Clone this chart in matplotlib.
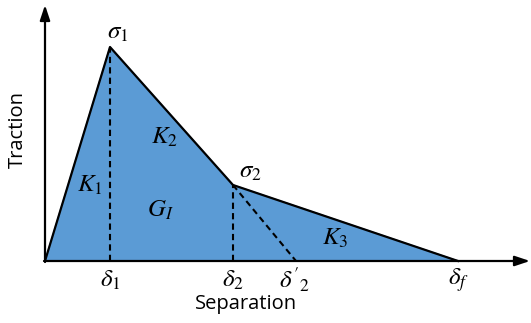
import matplotlib
matplotlib.use("Agg")
import matplotlib.pyplot as plt

plt.rcParams['mathtext.fontset'] = 'stix'

# Key points of the trilinear traction-separation law (arbitrary units)
separation = [0, 65, 188, 413]      # 0, delta1, delta2, delta_f
traction = [0, 214, 76, 0]          # 0, sigma1, sigma2, 0
delta2_prime = 251
sep_labels = [r'$\delta_1$', r'$\delta_2$', r"$\delta'{}_2$", r'$\delta_f$']
sep_label_pos = [65, 188, 249, 413]

fill_color = '#5B9BD5'

fig = plt.figure(figsize=(5.31, 3.23), dpi=100)
ax = fig.add_axes([0, 0, 1, 1])
ax.set_xlim(-45, 486)
ax.set_ylim(-62, 261)
ax.axis('off')

ax.fill(separation, traction, color=fill_color, zorder=1)
ax.plot(separation, traction, color='black', lw=1.6, zorder=3)

# dashed helper lines
ax.plot([separation[1], separation[1]], [0, traction[1]], ls=(0, (3, 2)), color='black', lw=1.5, zorder=2)
ax.plot([separation[2], separation[2]], [0, traction[2]], ls=(0, (3, 2)), color='black', lw=1.5, zorder=2)
ax.plot([separation[2], delta2_prime], [traction[2], 0], ls=(0, (3, 2)), color='black', lw=1.5, zorder=2)

# axes arrows
arrow = dict(arrowstyle='-|>,head_length=0.9,head_width=0.3', color='black', lw=1.6, shrinkA=0, shrinkB=0)
ax.annotate('', xy=(0, 256), xytext=(0, -1), arrowprops=arrow, zorder=4)
ax.annotate('', xy=(485, 0), xytext=(-1, 0), arrowprops=arrow, zorder=4)

fs = 18
ax.text(73, 229, r'$\sigma_1$', fontsize=fs, ha='center', va='center')
ax.text(205, 90, r'$\sigma_2$', fontsize=fs, ha='center', va='center')
ax.text(45, 76, r'$K_1$', fontsize=fs, ha='center', va='center')
ax.text(120, 124, r'$K_2$', fontsize=fs, ha='center', va='center')
ax.text(290, 23, r'$K_3$', fontsize=fs, ha='center', va='center')
ax.text(115, 51, r'$G_I$', fontsize=fs, ha='center', va='center')

for lab, x in zip(sep_labels, sep_label_pos):
    ax.text(x, -19, lab, fontsize=fs, ha='center', va='center')

ax.text(201, -43, 'Separation', fontsize=14.5, family='Open Sans', ha='center', va='center')
ax.text(-27, 131, 'Traction', fontsize=14.5, family='Open Sans', ha='center', va='center', rotation=90)

fig.savefig('out.png', dpi=100)
